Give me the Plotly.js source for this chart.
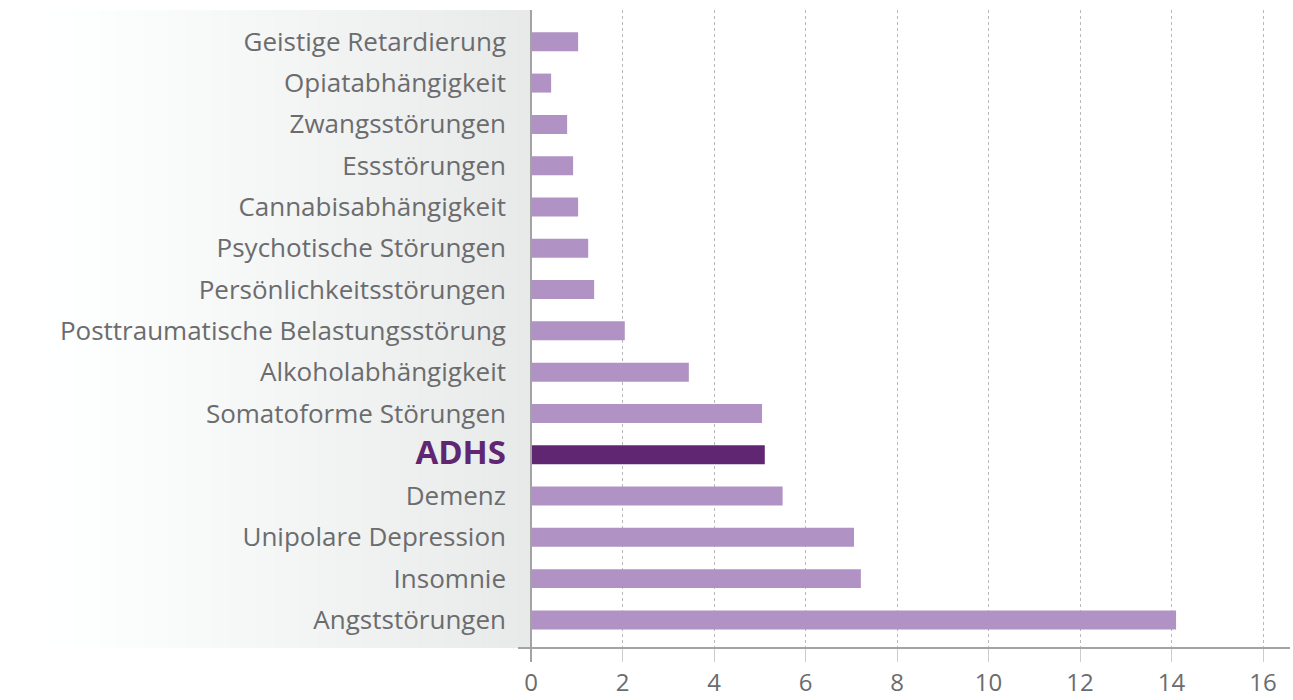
<!DOCTYPE html>
<html><head><meta charset="utf-8">
<script src="https://cdn.plot.ly/plotly-3.0.1.min.js"></script>
<style>html,body{margin:0;padding:0;background:#fff}#chart{width:1293px;height:700px}</style>
</head><body><div id="chart"></div>
<script>
const categories = ["Geistige Retardierung","Opiatabhängigkeit","Zwangsstörungen","Essstörungen","Cannabisabhängigkeit","Psychotische Störungen","Persönlichkeitsstörungen","Posttraumatische Belastungsstörung","Alkoholabhängigkeit","Somatoforme Störungen","ADHS","Demenz","Unipolare Depression","Insomnie","Angststörungen"];
const values = [1.03,0.44,0.79,0.92,1.03,1.25,1.38,2.05,3.45,5.05,5.11,5.5,7.06,7.21,14.1];
const highlight = "ADHS";
const xTicks = [0,2,4,6,8,10,12,14,16];

const baseColor = "#b192c4", hiColor = "#612672";
const colors = categories.map(c => c === highlight ? hiColor : baseColor);
const ticktext = categories.map(c => c === highlight ?
  '<b><span style="font-size:33px;fill:' + hiColor + '">' + c + '</span></b>' : c);

const L = 531, W = 759;
const px = p => (p - L) / W;
const shapes = [];
const N = 80, x0 = 30, x1 = 531;
for (let i = 0; i < N; i++) {
  const a = x0 + (x1 - x0) * i / N, b = x0 + (x1 - x0) * (i + 1) / N + 0.6;
  const t = (i + 0.5) / N;
  const v = Math.round(255 - 23 * Math.pow(t, 1.1));
  shapes.push({type:'rect', xref:'paper', yref:'paper', x0:px(a), x1:px(b), y0:0, y1:1,
    fillcolor:`rgb(${v},${v+1},${v+1})`, line:{width:0}, layer:'below'});
}
// axis lines
shapes.push({type:'line', xref:'paper', yref:'paper', x0:px(518), x1:1, y0:0, y1:0, line:{color:'#a3a3a3', width:2}});
shapes.push({type:'line', xref:'paper', yref:'paper', x0:0, x1:0, y0:-14/638, y1:1, line:{color:'#a3a3a3', width:2}});

const trace = {type:'bar', orientation:'h', y:categories, x:values,
  marker:{color:colors, line:{width:0}}, width:0.46, hoverinfo:'x+y'};

const layout = {
  width:1293, height:700,
  margin:{l:L, r:3, t:10, b:52, pad:0},
  paper_bgcolor:'#ffffff', plot_bgcolor:'rgba(0,0,0,0)',
  font:{family:'"Open Sans", "Noto Sans", sans-serif', color:'#6b6c6e', size:25},
  showlegend:false,
  xaxis:{range:[0, (1290-531)/45.75], tickvals:xTicks, ticktext:xTicks.map(String),
    showgrid:true, gridcolor:'#b8b8b8', griddash:'dot', gridwidth:1,
    zeroline:false, showline:false, ticks:'outside', ticklen:13, tickcolor:'#cccccc', tickwidth:1,
    tickfont:{size:24, color:'#6b6c6e'}, fixedrange:true},
  yaxis:{type:'category', categoryorder:'array', categoryarray:categories.slice().reverse(),
    range:[-0.68, 14.77], tickvals:categories, ticktext:ticktext,
    showgrid:false, zeroline:false, showline:false, ticks:'', ticklabelstandoff:24,
    tickfont:{size:26, color:'#6b6c6e'}, fixedrange:true},
  shapes:shapes
};
Plotly.newPlot('chart', [trace], layout, {displayModeBar:false, staticPlot:true});
</script></body></html>
